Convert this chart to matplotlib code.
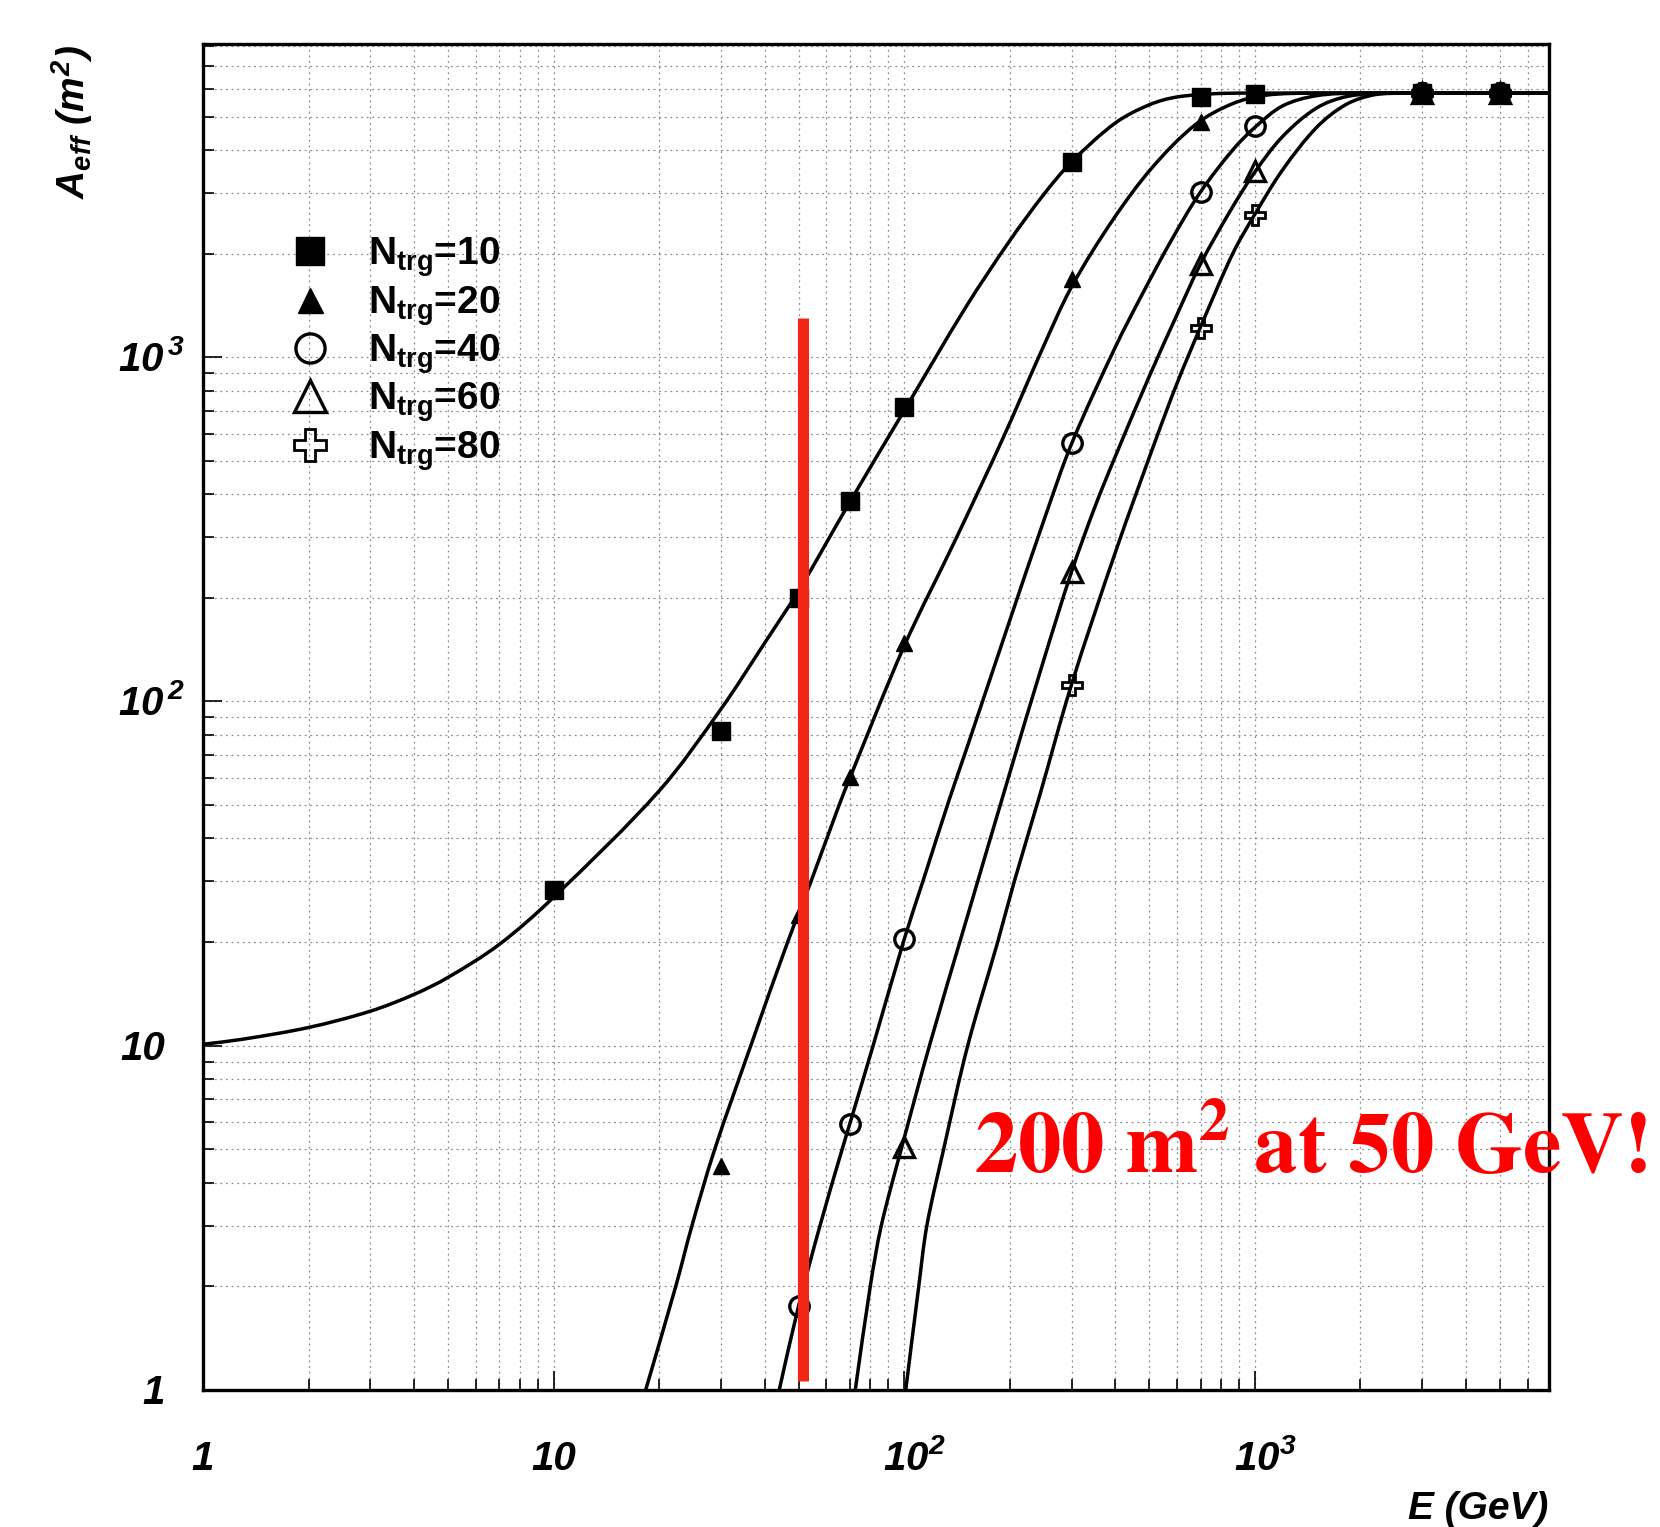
import numpy as np
import matplotlib
matplotlib.use('Agg')
import matplotlib.pyplot as plt
import matplotlib.transforms as mtransforms
from matplotlib.path import Path
from matplotlib.patches import PathPatch

plt.rcParams['font.family'] = ['Liberation Sans', 'DejaVu Sans']
plt.rcParams['mathtext.fontset'] = 'custom'
plt.rcParams['mathtext.rm'] = 'Liberation Sans:bold:italic'
plt.rcParams['mathtext.it'] = 'Liberation Sans:bold:italic'
plt.rcParams['mathtext.bf'] = 'Liberation Sans:bold'

# measured effective area per trigger threshold (E in GeV, A in m^2)
E10 = [10, 30, 50, 70, 100, 300, 700, 1000, 3000, 5000]
A10 = [28.3, 82, 200, 382, 715, 3680, 5700, 5800, 5850, 5850]
E20 = [30, 50, 70, 100, 300, 700, 1000, 3000, 5000]
A20 = [4.48, 24, 60.5, 148, 1690, 4820, 5800, 5850, 5850]
E40 = [50, 70, 100, 300, 700, 1000, 3000, 5000]
A40 = [1.76, 5.93, 20.4, 562, 3020, 4710, 5850, 5850]
E60 = [100, 300, 700, 1000, 3000, 5000]
A60 = [5.08, 237, 1866, 3480, 5850, 5850]
E80 = [300, 700, 1000, 3000, 5000]
A80 = [112, 1215, 2595, 5850, 5850]

# fitted curves, sampled along each fit
fitE10 = [1, 1.3, 2, 3, 4, 5, 7, 10, 20, 30, 40, 50, 70, 100, 150, 200, 250, 300, 400, 500, 600, 800,
          1000, 7000]
fitA10 = [10.1, 10.45, 11.3, 12.6, 14.1, 15.8, 19.7, 27, 55, 95, 148, 210, 380, 700, 1400, 2180, 2970,
          3690, 4790, 5410, 5700, 5838, 5850, 5850]
fitE20 = [18.3, 22.3, 24.8, 28.8, 36.5, 46.5, 54.2, 65.2, 70, 100, 140, 191, 248, 300, 393, 511, 679,
          864, 1076, 1500, 7000]
fitA20 = [1, 2, 3, 5, 10, 20, 30, 50, 60, 145, 295, 580, 1060, 1600, 2500, 3567, 4750, 5450, 5770,
          5850, 5850]
fitE40 = [44, 50, 57.5, 66.5, 70, 81.5, 100, 113, 134.5, 150, 200, 250, 300, 400, 480, 580, 700, 865,
          1000, 1200, 1500, 2000, 7000]
fitA40 = [1, 1.76, 3, 5, 5.95, 10, 20.4, 30, 52, 72, 172, 335, 560, 1070, 1540, 2200, 3020, 4000,
          4650, 5370, 5750, 5850, 5850]
fitE60 = [72.5, 80, 86, 98, 118, 150, 200, 250, 300, 350, 400, 500, 600, 700, 850, 1000, 1200, 1500,
          1850, 2500, 7000]
fitA60 = [1, 2, 3, 5, 10, 23, 62, 132, 238, 368, 515, 880, 1330, 1866, 2655, 3450, 4375, 5294, 5730,
          5848, 5850]
fitE80 = [101, 110, 116, 129.5, 151.7, 184.7, 206, 243, 300, 402, 523, 600, 700, 865, 1000, 1200, 1500,
          1820, 2200, 2700, 7000]
fitA80 = [1, 2, 3, 5, 10, 20, 30, 53, 112, 275, 580, 840, 1224, 2000, 2600, 3500, 4650, 5420, 5790,
          5850, 5850]

labels = [r'$\mathbf{N}_{\mathbf{trg}}$=10', r'$\mathbf{N}_{\mathbf{trg}}$=20', r'$\mathbf{N}_{\mathbf{trg}}$=40',
          r'$\mathbf{N}_{\mathbf{trg}}$=60', r'$\mathbf{N}_{\mathbf{trg}}$=80']

x_ticks = [1, 10, 100, 1000]
x_ticklabels = ['1', '10', r'$10^{2}$', r'$10^{3}$']
y_ticks = [1, 10, 100, 1000]
y_ticklabels = ['1', '10', r'$10^{\,2}$', r'$10^{\,3}$']

marker_E = 51.5
marker_A = [1.06, 1300]


def smooth_path(E, A):
    # cubic bezier through the sampled points, built in log-log space
    p = np.column_stack([np.log10(E), np.log10(A)])
    t = np.concatenate([[0], np.cumsum(np.hypot(*np.diff(p, axis=0).T))])
    m = np.empty_like(p)
    m[0] = (p[1] - p[0]) / (t[1] - t[0])
    m[-1] = (p[-1] - p[-2]) / (t[-1] - t[-2])
    m[1:-1] = (p[2:] - p[:-2]) / (t[2:] - t[:-2])[:, None]
    verts, codes = [p[0]], [Path.MOVETO]
    for i in range(len(p) - 1):
        h = t[i + 1] - t[i]
        c1 = p[i] + m[i] * h / 3
        c2 = p[i + 1] - m[i + 1] * h / 3
        lo, hi = sorted((p[i, 1], p[i + 1, 1]))
        c1[1] = np.clip(c1[1], lo, hi)
        c2[1] = np.clip(c2[1], lo, hi)
        verts += [c1, c2, p[i + 1]]
        codes += [Path.CURVE4] * 3
    return Path(10 ** np.array(verts), codes)


fig = plt.figure(figsize=(16.6, 15.27), dpi=100)
ax = fig.add_axes([0.1223, 0.0897, 0.8108, 0.8812])
ax.set_xscale('log')
ax.set_yscale('log')

ax.grid(which='both', color='#8c8c8c', linestyle=(0, (1.5, 3)), linewidth=0.9)
ax.set_axisbelow(True)
ax.tick_params(which='both', direction='in', top=False, right=False,
               labelbottom=False, labelleft=False, width=1.2)
ax.tick_params(which='major', length=14)
ax.tick_params(which='minor', length=8)
for s in ax.spines.values():
    s.set_linewidth(2.4)

for fe, fa in [(fitE10, fitA10), (fitE20, fitA20), (fitE40, fitA40), (fitE60, fitA60), (fitE80, fitA80)]:
    ax.add_patch(PathPatch(smooth_path(fe, fa), fill=False, edgecolor='black', lw=2.5, zorder=3))

styles = [
    dict(marker='s', ms=13, color='black'),
    dict(marker='^', ms=12, color='black'),
    dict(marker='o', ms=14, color='black', mfc='none', mew=2.4),
    dict(marker='^', ms=15, color='black', mfc='none', mew=2.4),
    dict(marker='P', ms=15, color='black', mfc='none', mew=2.0),
]
handles = []
for (e, a), st in zip([(E10, A10), (E20, A20), (E40, A40), (E60, A60), (E80, A80)], styles):
    h, = ax.plot(e, a, ls='none', zorder=4, **st)
    handles.append(h)

ax.vlines(marker_E, marker_A[0], marker_A[1], color='#f22613', lw=8, zorder=5)

ax.set_xlim(1, 6900)
ax.set_ylim(1, 8100)

leg = ax.legend(handles, labels, loc='upper left', bbox_to_anchor=(0.0651, 0.858), frameon=False,
                prop=dict(family='Liberation Sans', weight='bold', size=28), handlelength=1.0,
                handletextpad=0.99, labelspacing=0.12, borderpad=0, borderaxespad=0, markerscale=1.5)

# tick labels, baseline aligned
for v, lab in zip(x_ticks, x_ticklabels):
    if lab.startswith('$'):
        tr = mtransforms.offset_copy(ax.get_xaxis_transform(), fig=fig, x=-21, y=-80, units='dots')
        ax.text(v, 0, lab, transform=tr, ha='left', va='baseline', fontsize=29, clip_on=False)
    else:
        tr = mtransforms.offset_copy(ax.get_xaxis_transform(), fig=fig, x=0, y=-80, units='dots')
        ax.text(v, 0, lab, transform=tr, ha='center', va='baseline', fontsize=29,
                style='italic', weight='bold', clip_on=False)
for v, lab in zip(y_ticks, y_ticklabels):
    if lab.startswith('$'):
        tr = mtransforms.offset_copy(ax.get_yaxis_transform(), fig=fig, x=-85, y=-14, units='dots')
        ax.text(0, v, lab, transform=tr, ha='left', va='baseline', fontsize=29, clip_on=False)
    else:
        tr = mtransforms.offset_copy(ax.get_yaxis_transform(), fig=fig, x=-38, y=-14, units='dots')
        ax.text(0, v, lab, transform=tr, ha='right', va='baseline', fontsize=29,
                style='italic', weight='bold', clip_on=False)

fig.text(0.0434, 0.9705, r'$A_{eff}\ (m^{2})$', rotation=90, ha='center', va='top', fontsize=28)
fig.text(0.933, 0.012, 'E (GeV)', ha='right', va='center', fontsize=28, style='italic', weight='bold')

fig.text(974 / 1660, 1 - 1172 / 1527, r'$\mathbf{200\ m^{2}\ at\ 50\ GeV!}$', math_fontfamily='stix',
         fontsize=62.5, color='red', ha='left', va='baseline')

fig.savefig('out.png', dpi=100)
